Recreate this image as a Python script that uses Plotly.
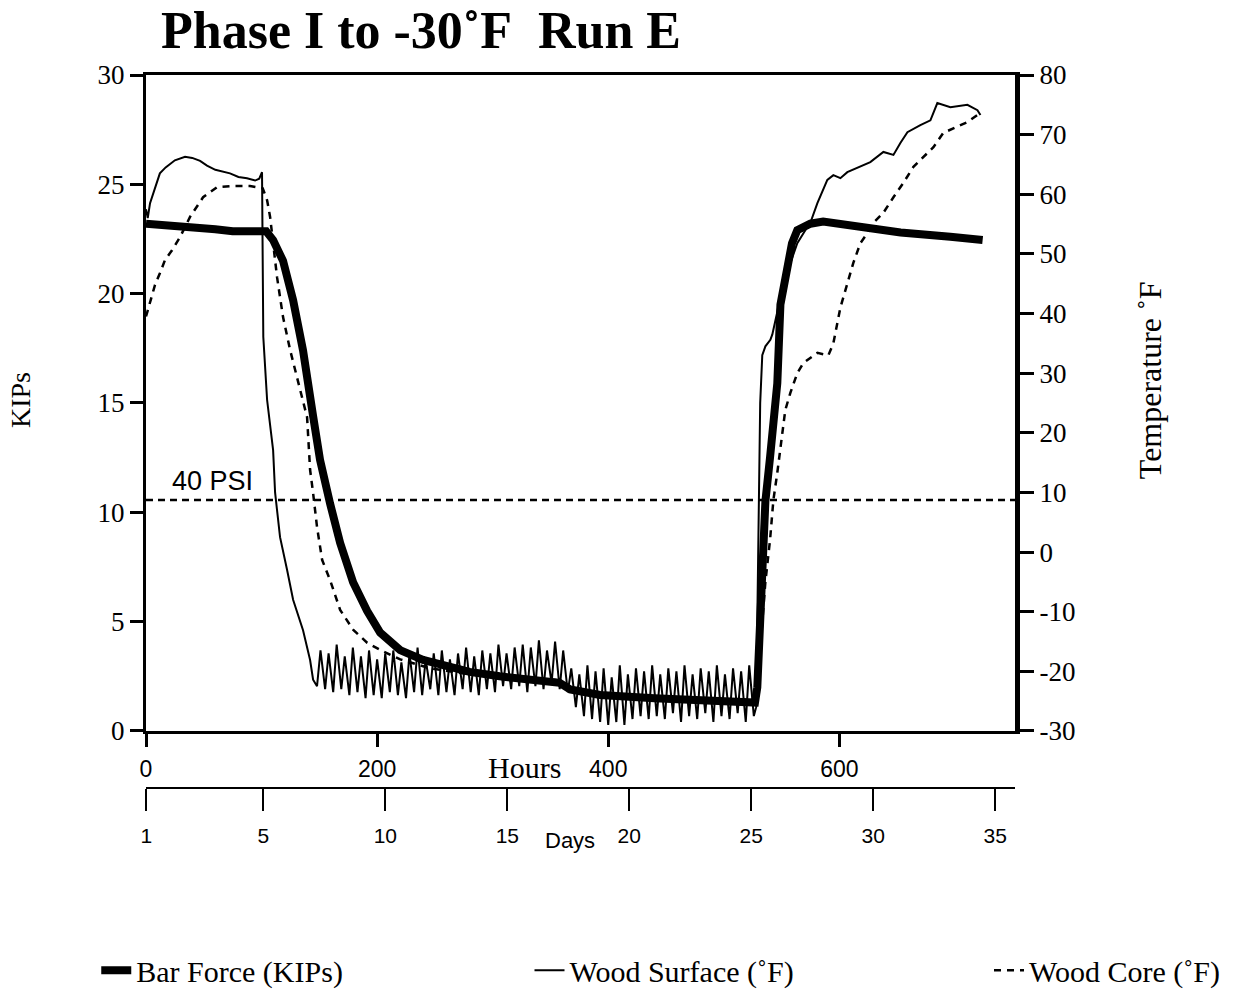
import plotly.graph_objects as go

# ---------------- data ----------------
hour_ticks = [0, 200, 400, 600]
day_tick_vals = [0.2, 5, 10, 15, 20, 25, 30, 35]   # axis origin is labelled "1"
day_tick_labels = ["1", "5", "10", "15", "20", "25", "30", "35"]
kip_ticks = [0, 5, 10, 15, 20, 25, 30]
temp_ticks = [-30, -20, -10, 0, 10, 20, 30, 40, 50, 60, 70, 80]
temp_tick_labels = ["-30", "-20", "-10", "0", "10", "20", "30", "40", "50", "60", "70", "80"]

psi_40_kips = 10.56

bar_hours = [0, 30, 60, 75, 104, 110, 118.6, 127.3, 135.9, 144.6,
             150.6, 159.3, 168, 179.2, 191.3, 202.6, 219.9, 239.8, 262, 280,
             306, 324, 358, 367, 380, 393, 440, 480, 527,
             529, 531, 533, 536, 540, 543, 546.3, 549, 552, 555,
             559, 563.6, 574.9, 586, 600, 618, 653, 696, 724]
bar_kips = [23.2, 23.1, 22.95, 22.85, 22.85, 22.45, 21.5, 19.7, 17.4, 14.4,
            12.4, 10.4, 8.6, 6.8, 5.5, 4.5, 3.7, 3.25, 2.9, 2.7,
            2.5, 2.4, 2.2, 1.9, 1.75, 1.65, 1.5, 1.42, 1.3,
            2.0, 5.0, 8.0, 10.5, 12.5, 14.5, 15.9, 19.5, 20.5, 21.4,
            22.3, 22.9, 23.2, 23.3, 23.2, 23.0, 22.8, 22.6, 22.45]

surface_hours = [0, 1.5, 3.5, 7.8, 12, 17, 25, 33.8, 40, 46.8,
                 52.8, 60, 72.7, 80, 87.4, 94.4, 98, 100.4, 101.0, 101.5,
                 104.8, 110, 111.7, 116, 122.1, 127.3, 135.9, 142, 144.6,
                 148, 151, 155, 158, 162, 165, 169, 172, 176, 179,
                 183, 186, 190, 193, 197, 200, 204, 207, 211, 214,
                 218, 221, 225, 228, 232, 235, 239, 242, 246, 249,
                 253, 256, 260, 263, 267, 270, 274, 277, 281, 284,
                 288, 291, 295, 298, 302, 305, 309, 312, 316, 319,
                 323, 326, 330, 333, 337, 340, 344, 347, 351, 354,
                 358, 361, 365, 368, 372, 375, 379, 382, 386, 389,
                 393, 396, 400, 403, 407, 410, 414, 417, 421, 424,
                 428, 431, 435, 438, 442, 445, 449, 452, 456, 459,
                 463, 466, 470, 473, 477, 480, 484, 487, 491, 494,
                 498, 501, 505, 508, 512, 515, 519, 522, 526, 528,
                 529, 530, 531.5, 533.3, 534.2, 536, 540.3, 542, 546, 549,
                 555, 563.6, 572.3, 574.9, 581, 589.6, 594.8, 600.9, 606.9, 618.2,
                 626.8, 638.1, 646.8, 652.8, 658.9, 670.1, 678.8, 684.8, 696.1, 710.8,
                 719.5, 722.1]
surface_temp = [57.5, 56.0, 58.5, 61.2, 63.5, 64.5, 65.7, 66.3, 66.1, 65.6,
                64.8, 64.1, 63.5, 62.9, 62.7, 62.3, 62.6, 63.7, 50.0, 36.1,
                25.5, 17.1, 10.0, 2.5, -3.0, -8.0, -13.1, -18.1, -21.4,
                -22.5, -16.5, -23.0, -17.0, -23.5, -15.5, -23.0, -17.5, -24.0, -16.0,
                -23.5, -17.5, -24.5, -16.5, -24.0, -18.0, -24.5, -17.0, -23.5, -16.5,
                -24.0, -18.5, -24.5, -17.0, -23.5, -16.0, -24.0, -18.0, -23.0, -17.0,
                -24.0, -16.5, -23.5, -18.0, -24.0, -17.0, -23.0, -16.0, -23.5, -17.5,
                -24.0, -16.5, -23.0, -17.0, -23.5, -15.5, -22.5, -17.0, -23.0, -16.0,
                -22.5, -15.5, -23.5, -16.0, -22.5, -14.8, -23.0, -16.5, -22.0, -15.0,
                -23.0, -16.5, -23.5, -19.5, -26.0, -20.5, -27.5, -19.0, -28.0, -20.0,
                -28.5, -19.5, -29.0, -21.0, -28.5, -19.0, -29.0, -20.5, -28.0, -19.5,
                -27.5, -20.0, -28.0, -19.0, -27.5, -20.5, -28.0, -19.5, -27.0, -20.0,
                -28.5, -19.0, -27.5, -20.5, -28.0, -19.5, -27.0, -20.0, -28.5, -19.0,
                -27.5, -20.5, -28.0, -19.5, -27.0, -20.0, -28.5, -19.0, -27.5, -26.0,
                -10.0, 10.0, 25.0, 33.0, 33.5, 34.5, 35.6, 36.5, 40.0, 43.0,
                47.0, 51.8, 54.5, 55.2, 58.5, 62.4, 63.2, 62.7, 63.7, 64.6,
                65.4, 67.1, 66.6, 68.6, 70.4, 71.6, 72.4, 75.3, 74.6, 75.0,
                74.1, 73.3]

core_hours = [0, 3.5, 7.8, 12.1, 16.5, 22.5, 29.4, 38.1, 49.4, 61.5,
              75.3, 90, 96.1, 101, 104.8, 107.4, 113.4, 118.6, 124.7, 139.4,
              142, 143.7, 144.6, 148, 152.4, 159.3, 168, 179.2, 191.3, 202.6,
              220, 246, 280, 324, 358, 368, 393, 440, 480, 527,
              530, 533, 536, 540, 542.9, 546.3, 548.9, 553.2, 557.6, 560.2,
              563.6, 568.8, 572.3, 581, 590.5, 594.8, 600.9, 606.9, 612.1, 618.2,
              624.2, 629.4, 638.1, 646.8, 655.4, 664.1, 672.7, 681.4, 690, 702.2,
              710.8, 719.5]
core_temp = [39.5, 42.0, 44.8, 46.8, 49.0, 50.6, 52.8, 56.2, 59.5, 61.2,
             61.4, 61.4, 61.2, 61.0, 59.0, 56.2, 46.1, 39.4, 33.9, 22.6,
             13.8, 11.6, 9.9, 4.2, -1.3, -4.7, -9.7, -13.0, -15.2, -16.4,
             -18.0, -19.5, -20.5, -21.0, -21.5, -23.0, -24.0, -24.5, -25.0, -25.5,
             -20.0, -12.0, -5.0, 2.0, 8.7, 13.3, 17.6, 23.8, 26.7, 28.3,
             30.0, 31.7, 32.2, 33.4, 33.0, 35.0, 41.0, 45.1, 48.5, 51.8,
             53.5, 55.2, 56.9, 59.5, 61.9, 64.6, 66.2, 67.9, 70.3, 71.3,
             72.1, 73.3]

SERIF = "Liberation Serif, Times New Roman, serif"
SANS = "Liberation Sans, Arial, Helvetica, sans-serif"

# ---------------- figure ----------------
fig = go.Figure()

fig.add_trace(go.Scatter(
    x=bar_hours, y=bar_kips, mode="lines", name="Bar Force (KIPs)",
    line=dict(color="black", width=8), xaxis="x", yaxis="y", legend="legend"))
fig.add_trace(go.Scatter(
    x=surface_hours, y=surface_temp, mode="lines", name="Wood Surface (˚F)",
    line=dict(color="black", width=2), xaxis="x", yaxis="y2", legend="legend2"))
fig.add_trace(go.Scatter(
    x=core_hours, y=core_temp, mode="lines", name="Wood Core (˚F)",
    line=dict(color="black", width=2.5, dash="7px,6px"), xaxis="x", yaxis="y2",
    legend="legend3"))
# invisible trace to carry the Days axis
fig.add_trace(go.Scatter(
    x=[day_tick_vals[0], day_tick_vals[-1]], y=[None, None], mode="markers",
    xaxis="x2", yaxis="y", showlegend=False, hoverinfo="skip"))

ydom0 = 0.0952
legend_common = dict(xref="container", yref="container", y=0.021,
                     xanchor="left", yanchor="middle", bgcolor="rgba(0,0,0,0)",
                     font=dict(family=SERIF, size=30, color="black"))
fig.update_layout(
    width=1250, height=991,
    margin=dict(l=146, r=235, t=75, b=191, autoexpand=False),
    paper_bgcolor="white", plot_bgcolor="rgba(0,0,0,0)",
    xaxis=dict(domain=[0, 1], range=[0, 752], tickvals=hour_ticks,
               ticks="outside", ticklen=13, tickwidth=3, tickcolor="black",
               showline=True, linewidth=3, linecolor="black", mirror=True,
               showgrid=False, zeroline=False, anchor="y",
               tickfont=dict(family=SANS, size=23, color="black"),
               ticklabelstandoff=2),
    xaxis2=dict(overlaying="x", anchor="free", position=0.01655, side="bottom",
                range=[0.19, 35.81], tickvals=day_tick_vals, ticktext=day_tick_labels,
                ticks="outside", ticklen=22, tickwidth=2, tickcolor="black",
                showline=True, linewidth=2, linecolor="black",
                showgrid=False, zeroline=False,
                tickfont=dict(family=SANS, size=21, color="black"),
                ticklabelstandoff=7),
    yaxis=dict(domain=[ydom0, 1], range=[0, 30], tickvals=kip_ticks,
               ticks="outside", ticklen=13, tickwidth=3, tickcolor="black",
               showline=True, linewidth=3, linecolor="black",
               showgrid=False, zeroline=False, anchor="x",
               tickfont=dict(family=SERIF, size=27, color="black")),
    yaxis2=dict(overlaying="y", side="right", anchor="x", range=[-30, 80],
                tickvals=temp_ticks, ticktext=temp_tick_labels,
                ticks="outside", ticklen=14, tickwidth=3, tickcolor="black",
                showline=True, linewidth=5, linecolor="black",
                showgrid=False, zeroline=False,
                tickfont=dict(family=SERIF, size=27, color="black")),
    legend=dict(x=0.077, **legend_common),
    legend2=dict(x=0.4236, **legend_common),
    legend3=dict(x=0.7912, **legend_common),
)

fig.add_shape(type="line", xref="paper", x0=0, x1=1, yref="y",
              y0=psi_40_kips, y1=psi_40_kips,
              line=dict(color="black", width=2.5, dash="7px,5px"))

annots = [
    dict(text="<b>Phase I to -30˚F\u00a0\u00a0Run E</b>", xref="paper", yref="paper",
         x=0.3165, y=1.062, font=dict(family=SERIF, size=52, color="black")),
    dict(text="KIPs", xref="paper", yref="paper", x=-0.145, y=0.5517, textangle=-90,
         font=dict(family=SERIF, size=28, color="black")),
    dict(text="Temperature ˚F", xref="paper", yref="paper", x=1.1553, y=0.579,
         textangle=-90, font=dict(family=SERIF, size=32, color="black")),
    dict(text="Hours", xref="paper", yref="paper", x=0.436, y=0.0455,
         font=dict(family=SERIF, size=30, color="black")),
    dict(text="Days", xref="paper", yref="paper", x=0.488, y=-0.0552,
         font=dict(family=SANS, size=22, color="black")),
    dict(text="40\u00a0PSI", xref="x", yref="y", x=21, y=11.43,
         xanchor="left", yanchor="middle",
         font=dict(family=SANS, size=27, color="black")),
]
for a in annots:
    a.setdefault("showarrow", False)
    a.setdefault("xanchor", "center")
    a.setdefault("yanchor", "middle")
    fig.add_annotation(**a)

fig.write_html("out.html")
